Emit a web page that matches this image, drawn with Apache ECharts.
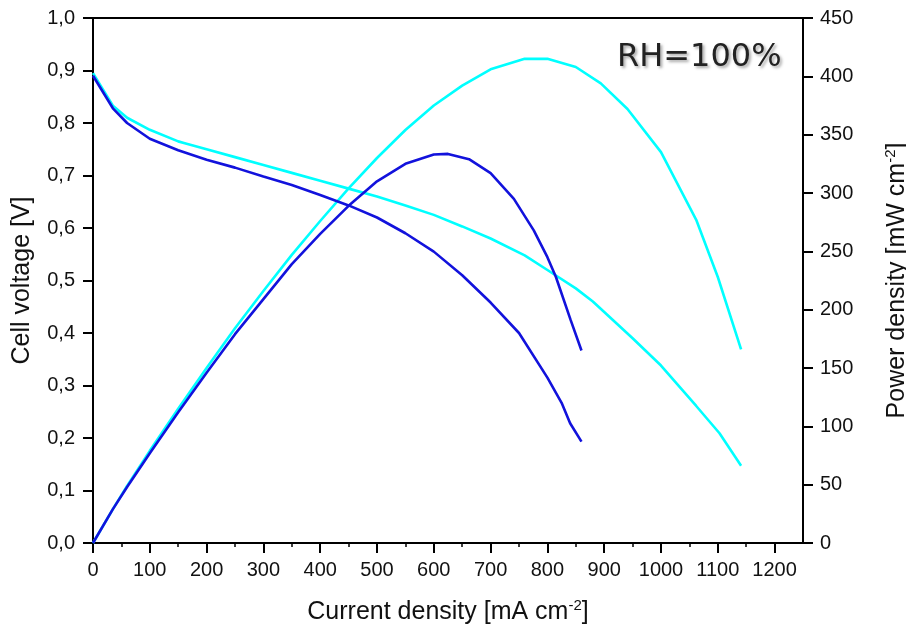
<!DOCTYPE html>
<html>
<head>
<meta charset="utf-8">
<script src="https://cdn.jsdelivr.net/npm/echarts@6/dist/echarts.min.js"></script>
<style>
html,body{margin:0;padding:0;background:#fff;}
#chart{width:906px;height:631px;}
</style>
</head>
<body>
<div id="chart"></div>
<script>
// Dark blue: polarization curve (cell voltage) and power density
const blueCurrent = [0, 35, 60, 100, 150, 200, 250, 300, 350, 400, 450, 500, 550, 600, 650, 700, 750, 800, 825, 840, 860];
const blueVoltage = [0.89, 0.828, 0.80, 0.77, 0.748, 0.73, 0.715, 0.698, 0.682, 0.663, 0.643, 0.62, 0.59, 0.555, 0.51, 0.458, 0.40, 0.315, 0.267, 0.228, 0.193];
const bluePowerCurrent = [0, 35, 60, 100, 150, 200, 250, 300, 350, 400, 450, 500, 550, 600, 625, 662, 700, 741, 776, 800, 815, 841, 860];
const bluePower = [0, 29, 48, 77, 112, 146, 179, 209, 239, 265, 289, 310, 325, 333, 333.5, 329, 317, 295, 268, 245, 228, 191, 165];

// Cyan: polarization curve and power density
const cyanCurrent = [0, 35, 60, 100, 150, 160, 200, 250, 300, 350, 400, 450, 500, 550, 600, 650, 700, 760, 800, 850, 880, 900, 950, 1000, 1062, 1103, 1141];
const cyanVoltage = [0.895, 0.833, 0.81, 0.787, 0.765, 0.762, 0.75, 0.735, 0.72, 0.705, 0.69, 0.675, 0.66, 0.643, 0.625, 0.603, 0.58, 0.548, 0.52, 0.485, 0.46, 0.44, 0.39, 0.338, 0.261, 0.209, 0.147];
const cyanPowerCurrent = [0, 35, 60, 100, 150, 200, 250, 300, 350, 400, 450, 500, 550, 600, 650, 700, 760, 800, 850, 894, 941, 1000, 1062, 1100, 1141];
const cyanPower = [0, 29, 49, 79, 115, 150, 184, 216, 247, 276, 304, 330, 354, 375, 392, 406, 415, 415, 408, 394, 372, 335, 277, 228, 166];

const xTicks = [0, 100, 200, 300, 400, 500, 600, 700, 800, 900, 1000, 1100, 1200];
const annotation = 'RH=100%';

function zip(a, b) { return a.map((v, i) => [v, b[i]]); }

const chart = echarts.init(document.getElementById('chart'), null, {renderer: 'canvas'});
const font = 'Liberation Sans, Arial, sans-serif';
const axisLine = {show: true, lineStyle: {color: '#000', width: 2}};
const BLUE = '#1212DC', CYAN = '#00FFFF';
const titleRich = {
  a: {fontSize: 25, fontFamily: font, color: '#111'},
  s: {fontSize: 15, fontFamily: font, color: '#111', verticalAlign: 'top', padding: [0, 0, 13, 0]}
};

chart.setOption({
  animation: false,
  backgroundColor: '#fff',
  grid: {left: 93, right: 103, top: 18, bottom: 88, show: true, borderColor: '#000', borderWidth: 2, containLabel: false, outerBoundsMode: 'none'},
  xAxis: {
    type: 'value', min: 0, max: 1250, interval: 100,
    axisLine: axisLine,
    axisTick: {show: true, length: 10, inside: false, lineStyle: {color: '#000', width: 2}, customValues: xTicks},
    minorTick: {show: true, splitNumber: 2, length: 4, lineStyle: {color: '#000', width: 1.5}},
    axisLabel: {color: '#111', fontSize: 20, fontFamily: font, margin: 17, customValues: xTicks, formatter: v => String(v)},
    splitLine: {show: false},
    name: '{a|Current density [mA cm}{s|-2}{a|]}',
    nameLocation: 'middle', nameGap: 55,
    nameTextStyle: {rich: titleRich}
  },
  yAxis: [{
    type: 'value', min: 0, max: 1, interval: 0.1, position: 'left',
    axisLine: axisLine,
    axisTick: {show: true, length: 10, lineStyle: {color: '#000', width: 2}},
    axisLabel: {color: '#111', fontSize: 20, fontFamily: font, margin: 18, formatter: v => v.toFixed(1).replace('.', ',')},
    splitLine: {show: false},
    name: 'Cell voltage [V]', nameLocation: 'middle', nameGap: 58, nameRotate: 90,
    nameTextStyle: {fontSize: 25, fontFamily: font, color: '#111'}
  }, {
    type: 'value', min: 0, max: 450, interval: 50, position: 'right',
    axisLine: axisLine,
    axisTick: {show: true, length: 10, lineStyle: {color: '#000', width: 2}},
    axisLabel: {color: '#111', fontSize: 20, fontFamily: font, margin: 17},
    splitLine: {show: false},
    name: '{a|Power density [mW cm}{s|-2}{a|]}', nameLocation: 'middle', nameGap: 80, nameRotate: 90,
    nameTextStyle: {rich: titleRich}
  }],
  graphic: [{
    type: 'text', left: 617, top: 42,
    style: {text: annotation, fontSize: 32, fontFamily: 'DejaVu Sans, Verdana, sans-serif', fill: '#222',
      textShadowColor: 'rgba(0,0,0,0.35)', textShadowBlur: 3, textShadowOffsetX: 2, textShadowOffsetY: 2}
  }],
  series: [
    {type: 'line', yAxisIndex: 1, data: zip(cyanPowerCurrent, cyanPower), showSymbol: false, lineStyle: {color: CYAN, width: 2.6}, itemStyle: {color: CYAN}},
    {type: 'line', yAxisIndex: 0, data: zip(cyanCurrent, cyanVoltage), showSymbol: false, lineStyle: {color: CYAN, width: 2.6}, itemStyle: {color: CYAN}},
    {type: 'line', yAxisIndex: 1, data: zip(bluePowerCurrent, bluePower), showSymbol: false, lineStyle: {color: BLUE, width: 2.6}, itemStyle: {color: BLUE}},
    {type: 'line', yAxisIndex: 0, data: zip(blueCurrent, blueVoltage), showSymbol: false, lineStyle: {color: BLUE, width: 2.6}, itemStyle: {color: BLUE}}
  ]
});
</script>
</body>
</html>
